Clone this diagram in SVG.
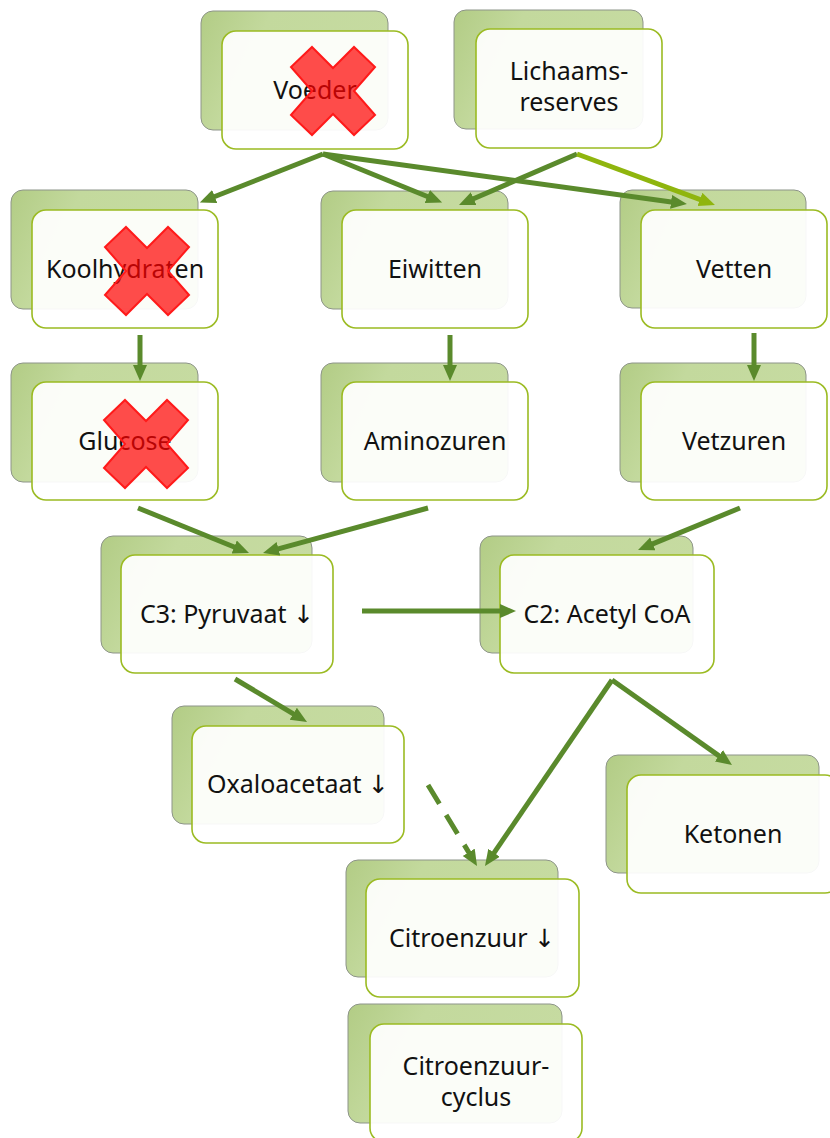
<svg xmlns="http://www.w3.org/2000/svg" width="830" height="1138" viewBox="0 0 830 1138">
  <defs>
    <linearGradient id="backFill" x1="0" y1="0" x2="1" y2="0.3">
      <stop offset="0" stop-color="#b2cc85"/>
      <stop offset="0.35" stop-color="#c3d99d"/>
      <stop offset="1" stop-color="#c6dba1"/>
    </linearGradient>
    <marker id="head" markerUnits="userSpaceOnUse" markerWidth="17" markerHeight="15" refX="4" refY="7" orient="auto">
      <path d="M0,0 L16,7 L0,14 z" fill="#5a8a2c"/>
    </marker>
    <marker id="headLight" markerUnits="userSpaceOnUse" markerWidth="17" markerHeight="15" refX="4" refY="7" orient="auto">
      <path d="M0,0 L16,7 L0,14 z" fill="#8fb50e"/>
    </marker>
    <polygon id="cross" points="-21,-44 0,-23 21,-44 42,-24 21,0 42,24 21,44 0,23 -21,44 -42,24 -21,0 -42,-24"/>
  </defs>
  <style>
    .back { fill: url(#backFill); stroke: #8d9489; stroke-width: 1; }
    .front { fill: #ffffff; fill-opacity: 0.93; stroke: #9bbb22; stroke-width: 1.6; }
    .label { font-family: "Noto Sans", "Liberation Sans", sans-serif; font-size: 25px; fill: #111111; text-anchor: middle; }
    .down { font-family: "DejaVu Sans", sans-serif; font-size: 25px; fill: #111111; }
    .link { fill: none; stroke: #5a8a2c; stroke-width: 5; marker-end: url(#head); }
    .link.light { stroke: #8fb50e; marker-end: url(#headLight); }
    .link.dashed { stroke-dasharray: 22 13; }
    .cross { fill: #ff0000; fill-opacity: 0.7; stroke: #ff1a1a; stroke-width: 2; }
  </style>

  <rect width="830" height="1138" fill="#ffffff"/>

  <!-- back cards -->
  <g id="backs">
    <rect class="back" x="201" y="11" width="187" height="119" rx="12"/>
    <rect class="back" x="454" y="10" width="189" height="119" rx="12"/>
    <rect class="back" x="11" y="190" width="187" height="119" rx="12"/>
    <rect class="back" x="321" y="191" width="187" height="118" rx="12"/>
    <rect class="back" x="620" y="190" width="186" height="118" rx="12"/>
    <rect class="back" x="11" y="363" width="187" height="119" rx="12"/>
    <rect class="back" x="321" y="363" width="187" height="119" rx="12"/>
    <rect class="back" x="620" y="363" width="186" height="119" rx="12"/>
    <rect class="back" x="101" y="536" width="211" height="117" rx="12"/>
    <rect class="back" x="480" y="536" width="213" height="117" rx="12"/>
    <rect class="back" x="172" y="706" width="212" height="118" rx="12"/>
    <rect class="back" x="606" y="755" width="213" height="118" rx="12"/>
    <rect class="back" x="346" y="860" width="212" height="117" rx="12"/>
    <rect class="back" x="348" y="1004" width="214" height="119" rx="12"/>
  </g>

  <!-- front cards with labels -->
  <g id="voeder">
    <rect class="front" x="222" y="31" width="186" height="118" rx="14"/>
    <text class="label" x="315" y="99">Voeder</text>
  </g>
  <g id="lichaamsreserves">
    <rect class="front" x="476" y="29" width="186" height="119" rx="14"/>
    <text class="label" x="569" y="80">Lichaams-</text>
    <text class="label" x="569" y="111">reserves</text>
  </g>
  <g id="koolhydraten">
    <rect class="front" x="32" y="210" width="186" height="118" rx="14"/>
    <text class="label" x="125" y="278">Koolhydraten</text>
  </g>
  <g id="eiwitten">
    <rect class="front" x="342" y="210" width="186" height="118" rx="14"/>
    <text class="label" x="435" y="278">Eiwitten</text>
  </g>
  <g id="vetten">
    <rect class="front" x="641" y="210" width="186" height="118" rx="14"/>
    <text class="label" x="734" y="278">Vetten</text>
  </g>
  <g id="glucose">
    <rect class="front" x="32" y="382" width="186" height="118" rx="14"/>
    <text class="label" x="125" y="450">Glucose</text>
  </g>
  <g id="aminozuren">
    <rect class="front" x="342" y="382" width="186" height="118" rx="14"/>
    <text class="label" x="435" y="450">Aminozuren</text>
  </g>
  <g id="vetzuren">
    <rect class="front" x="641" y="382" width="186" height="118" rx="14"/>
    <text class="label" x="734" y="450">Vetzuren</text>
  </g>
  <g id="pyruvaat">
    <rect class="front" x="121" y="555" width="212" height="118" rx="14"/>
    <text class="label" x="227" y="623">C3: Pyruvaat <tspan class="down">↓</tspan></text>
  </g>
  <g id="acetylcoa">
    <rect class="front" x="500" y="555" width="214" height="118" rx="14"/>
    <text class="label" x="607" y="623">C2: Acetyl CoA</text>
  </g>
  <g id="oxaloacetaat">
    <rect class="front" x="192" y="726" width="212" height="117" rx="14"/>
    <text class="label" x="298" y="793">Oxaloacetaat <tspan class="down">↓</tspan></text>
  </g>
  <g id="ketonen">
    <rect class="front" x="627" y="775" width="212" height="118" rx="14"/>
    <text class="label" x="733" y="843">Ketonen</text>
  </g>
  <g id="citroenzuur">
    <rect class="front" x="366" y="879" width="213" height="118" rx="14"/>
    <text class="label" x="472" y="947">Citroenzuur <tspan class="down">↓</tspan></text>
  </g>
  <g id="citroenzuurcyclus">
    <rect class="front" x="370" y="1024" width="212" height="118" rx="14"/>
    <text class="label" x="476" y="1075">Citroenzuur-</text>
    <text class="label" x="476" y="1106">cyclus</text>
  </g>

  <!-- blocked sources -->
  <g id="crosses">
    <use href="#cross" class="cross" transform="translate(333,91)"/>
    <use href="#cross" class="cross" transform="translate(147,271)"/>
    <use href="#cross" class="cross" transform="translate(146,444)"/>
  </g>

  <!-- connectors -->
  <g id="connectors">
    <line class="link" x1="323" y1="154" x2="211" y2="198"/>
    <line class="link" x1="323" y1="154" x2="431" y2="198"/>
    <line class="link" x1="323" y1="154" x2="675" y2="202.4"/>
    <line class="link" x1="577" y1="154" x2="470" y2="200.2"/>
    <line class="link light" x1="577" y1="154" x2="703.7" y2="200.8"/>
    <line class="link" x1="140" y1="335" x2="140" y2="369"/>
    <line class="link" x1="450" y1="335" x2="450" y2="369"/>
    <line class="link" x1="754" y1="333" x2="754" y2="369"/>
    <line class="link" x1="138" y1="508" x2="237.9" y2="548.5"/>
    <line class="link" x1="428" y1="508" x2="274.6" y2="549.8"/>
    <line class="link" x1="740" y1="508" x2="649.1" y2="545.4"/>
    <line class="link" x1="362" y1="611" x2="504" y2="611"/>
    <line class="link" x1="235" y1="679" x2="296.7" y2="715.8"/>
    <line class="link" x1="612" y1="680" x2="491.8" y2="856.1"/>
    <line class="link" x1="612" y1="680" x2="722.2" y2="758.1"/>
    <line class="link dashed" x1="428" y1="785" x2="470.8" y2="855.7"/>
  </g>
</svg>
